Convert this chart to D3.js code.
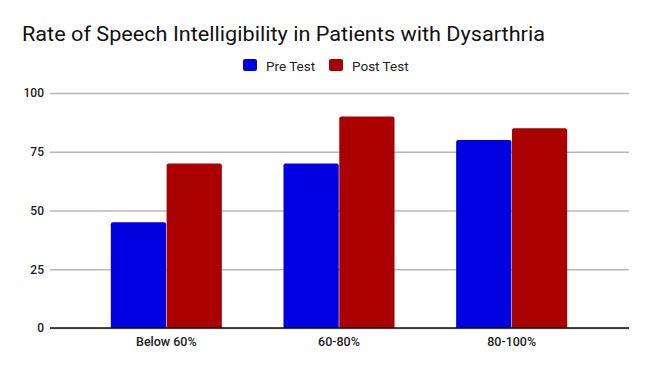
<!DOCTYPE html>
<html>
<head>
<meta charset="utf-8">
<script src="https://cdn.jsdelivr.net/npm/d3@7"></script>
<style>
  body { margin: 0; background: #fff; }
  text { font-family: Roboto, "Noto Sans", sans-serif; }
</style>
</head>
<body>
<script>
// chart data
var categories = ["Below 60%", "60-80%", "80-100%"];
var seriesNames = ["Pre Test", "Post Test"];
var preTest = [45, 70, 80];
var postTest = [70, 90, 85];
var yTicks = [0, 25, 50, 75, 100];

var w = 650,
    h = 370;

var colors = ["#0000e0", "#aa0000"];

var svg = d3.select("body").append("svg")
    .attr("width", w)
    .attr("height", h);

svg.append("rect")
    .attr("width", w)
    .attr("height", h)
    .attr("fill", "#fff");

var y = d3.scaleLinear()
    .domain([0, 100])
    .range([328, 93]);

var x0 = d3.scaleBand()
    .domain(categories)
    .range([80, 598])
    .paddingInner(0.357)
    .paddingOuter(0.1785);

var x1 = d3.scaleBand()
    .domain(seriesNames)
    .range([0, x0.bandwidth()])
    .paddingInner(0.01);

// title
svg.append("text")
    .attr("x", 22)
    .attr("y", 41)
    .attr("font-size", 20.5)
    .attr("fill", "#111")
    .attr("textLength", 523)
    .attr("lengthAdjust", "spacingAndGlyphs")
    .text("Rate of Speech Intelligibility in Patients with Dysarthria");

// legend
var legend = svg.append("g")
    .attr("transform", "translate(243,59)");

var lx = [0, 86];
legend.selectAll("g")
    .data(seriesNames)
  .enter().append("g")
    .attr("transform", function(d, i) { return "translate(" + lx[i] + ",0)"; })
    .each(function(d, i) {
      var g = d3.select(this);
      g.append("rect")
        .attr("width", 14)
        .attr("height", 12)
        .attr("rx", 2)
        .attr("fill", colors[i]);
      g.append("text")
        .attr("x", 23)
        .attr("y", 11.5)
        .attr("font-size", 13.5)
        .attr("fill", "#222")
        .text(d);
    });

// grid + y labels
var yAxis = d3.axisLeft(y)
    .tickValues(yTicks)
    .tickSize(-(629 - 50))
    .tickPadding(6);

var gy = svg.append("g")
    .attr("transform", "translate(50,0)")
    .call(yAxis);

gy.select(".domain").remove();
gy.selectAll(".tick line")
    .attr("stroke", "#b8b8b8")
    .attr("stroke-width", 1.5);
gy.selectAll(".tick text")
    .attr("font-size", 12)
    .attr("font-weight", 500)
    .attr("fill", "#222")
    .attr("font-family", "Roboto, sans-serif");

// bars
var groups = svg.append("g").selectAll("g")
    .data(categories)
  .enter().append("g")
    .attr("transform", function(d) { return "translate(" + x0(d) + ",0)"; });

groups.selectAll("path")
    .data(function(d, i) { return [preTest[i], postTest[i]]; })
  .enter().append("path")
    .attr("fill", function(d, j) { return colors[j]; })
    .attr("d", function(d, j) {
      var bx = x1(seriesNames[j]), bw = x1.bandwidth(),
          top = y(d), bot = y(0), r = 2;
      return "M" + bx + "," + bot +
        "V" + (top + r) +
        "Q" + bx + "," + top + " " + (bx + r) + "," + top +
        "H" + (bx + bw - r) +
        "Q" + (bx + bw) + "," + top + " " + (bx + bw) + "," + (top + r) +
        "V" + bot + "Z";
    });

// baseline
svg.append("line")
    .attr("x1", 50)
    .attr("x2", 629)
    .attr("y1", y(0))
    .attr("y2", y(0))
    .attr("stroke", "#111")
    .attr("stroke-width", 1.5);

// x labels
var xAxis = d3.axisBottom(x0).tickSize(0).tickPadding(9);
var gx = svg.append("g")
    .attr("transform", "translate(0," + y(0) + ")")
    .call(xAxis);
gx.select(".domain").remove();
gx.selectAll(".tick text")
    .attr("font-size", 12.5)
    .attr("font-weight", 500)
    .attr("fill", "#222")
    .attr("font-family", "Roboto, sans-serif");
</script>
</body>
</html>
